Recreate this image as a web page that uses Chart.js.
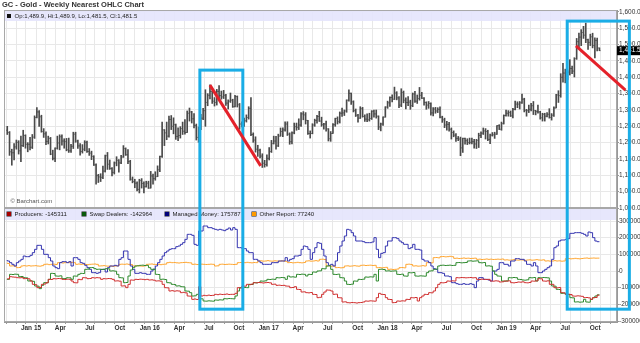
<!DOCTYPE html>
<html>
<head>
<meta charset="utf-8">
<title>GC - Gold - Weekly Nearest OHLC Chart</title>
<script src="https://cdn.jsdelivr.net/npm/chart.js@4.4.1/dist/chart.umd.min.js"></script>
<style>
  html, body { margin: 0; padding: 0; background: #fff; }
  #wrap { width: 640px; height: 343px; }
</style>
</head>
<body>
<div id="wrap"><canvas id="gold" width="640" height="343"></canvas></div>
<script>
// weekly bars, first one is the week of Mon 20 Oct 2014
const firstWeek = Date.UTC(2014, 9, 20);
const WEEK = 7 * 864e5;
const xMin = Date.UTC(2014, 9, 10);
const xMax = Date.UTC(2019, 11, 7);

const priceOpen = [
  1238,1231,1172,1169,1187,1201,1175,1191,1222,1195, 1195,1186,1217,1277,1294,1279,1234,1227,1204,1213,
  1165,1152,1183,1199,1218,1205,1203,1178,1175,1189, 1226,1205,1190,1173,1180,1201,1173,1168,1158,1132,
  1099,1095,1094,1113,1160,1134,1121,1109,1138,1146, 1138,1156,1182,1163,1142,1088,1081,1076,1057,1084,
  1075,1065,1076,1061,1098,1090,1096,1117,1158,1239, 1230,1220,1271,1250,1255,1219,1222,1243,1235,1231,
  1290,1294,1273,1252,1216,1244,1275,1298,1323,1345, 1357,1327,1323,1357,1344,1340,1345,1321,1327,1330,
  1310,1341,1316,1257,1254,1267,1277,1305,1225,1208, 1180,1177,1159,1137,1133,1152,1173,1197,1205,1190,
  1220,1234,1239,1257,1226,1203,1230,1249,1247,1254, 1288,1285,1268,1228,1228,1254,1268,1280,1266,1255,
  1257,1242,1212,1228,1255,1274,1264,1290,1291,1297, 1330,1351,1325,1298,1284,1275,1304,1280,1272,1270,
  1274,1296,1288,1281,1248,1257,1278,1309,1322,1338, 1333,1352,1337,1315,1353,1330,1323,1324,1313,1349,
  1327,1335,1345,1336,1323,1315,1320,1291,1303,1297, 1302,1278,1270,1254,1256,1241,1231,1223,1213,1211,
  1184,1213,1206,1200,1201,1203,1196,1207,1222,1229, 1236,1234,1210,1223,1224,1226,1252,1241,1258,1283,
  1290,1292,1282,1302,1318,1318,1322,1333,1299,1298, 1302,1313,1298,1295,1294,1276,1287,1281,1287,1277,
  1284,1306,1346,1344,1400,1413,1400,1416,1427,1419, 1457,1509,1523,1537,1529,1515,1507,1524,1497,1513,
  1489.9
];
const priceHigh = [
  1250,1234,1180,1197,1208,1206,1220,1238,1224,1200, 1216,1225,1282,1307,1298,1284,1243,1233,1220,1216,
  1177,1184,1220,1224,1224,1212,1213,1214,1195,1232, 1232,1208,1197,1194,1206,1205,1182,1174,1160,1135,
  1103,1105,1128,1162,1170,1147,1124,1141,1157,1148, 1161,1191,1184,1179,1146,1095,1088,1080,1088,1090,
  1080,1082,1082,1112,1104,1111,1129,1159,1263,1240, 1263,1281,1283,1276,1257,1245,1249,1263,1271,1297,
  1306,1296,1289,1257,1248,1287,1305,1362,1350,1377, 1358,1338,1363,1375,1358,1360,1348,1331,1352,1333,
  1345,1343,1320,1264,1275,1285,1310,1338,1230,1218, 1192,1180,1166,1146,1163,1185,1207,1220,1219,1226,
  1245,1245,1264,1264,1230,1233,1260,1260,1273,1292, 1295,1292,1268,1236,1258,1272,1284,1296,1278,1259,
  1266,1243,1234,1258,1275,1279,1294,1306,1300,1331, 1362,1352,1328,1303,1287,1310,1308,1285,1288,1290,
  1298,1300,1300,1282,1260,1279,1310,1327,1340,1346, 1370,1356,1341,1365,1358,1337,1341,1330,1352,1357,
  1346,1369,1354,1338,1325,1326,1322,1307,1308,1307, 1310,1281,1275,1265,1262,1245,1236,1228,1219,1217,
  1214,1214,1212,1214,1214,1210,1210,1229,1233,1245, 1243,1238,1226,1231,1232,1252,1255,1263,1285,1300,
  1298,1297,1305,1327,1325,1326,1349,1336,1302,1315, 1320,1326,1299,1315,1296,1290,1290,1292,1304,1289,
  1310,1348,1359,1411,1443,1425,1423,1454,1434,1460, 1519,1535,1546,1556,1566,1517,1532,1535,1521,1520,
  1489.9
];
const priceLow = [
  1225,1161,1131,1147,1180,1165,1142,1188,1183,1172, 1178,1182,1213,1276,1250,1232,1216,1194,1196,1163,
  1147,1142,1180,1178,1192,1183,1175,1170,1170,1182, 1201,1182,1162,1168,1175,1170,1161,1148,1130,1073,
  1078,1081,1090,1110,1118,1118,1098,1104,1129,1110, 1136,1155,1161,1136,1085,1077,1062,1052,1046,1061,
  1046,1064,1060,1061,1073,1085,1096,1111,1155,1191, 1209,1217,1240,1227,1210,1206,1214,1225,1226,1231,
  1266,1260,1245,1208,1201,1240,1270,1250,1313,1334, 1320,1312,1315,1336,1333,1335,1314,1303,1323,1308,
  1309,1309,1241,1248,1250,1263,1272,1221,1201,1171, 1158,1153,1124,1125,1128,1147,1170,1196,1180,1188,
  1220,1218,1235,1222,1195,1196,1227,1238,1240,1250, 1270,1257,1225,1214,1227,1250,1260,1265,1250,1241,
  1235,1205,1204,1228,1250,1257,1260,1280,1283,1293, 1327,1317,1294,1280,1263,1274,1278,1265,1264,1266,
  1271,1278,1275,1240,1236,1253,1278,1305,1311,1325, 1332,1331,1307,1310,1322,1303,1313,1302,1310,1323,
  1320,1330,1335,1315,1302,1305,1284,1282,1290,1292, 1276,1262,1246,1238,1235,1211,1218,1204,1206,1160,
  1170,1195,1194,1196,1196,1183,1182,1185,1215,1225, 1211,1206,1197,1220,1213,1225,1240,1238,1257,1281,
  1281,1280,1276,1300,1307,1303,1320,1294,1281,1292, 1297,1286,1285,1290,1272,1266,1266,1279,1275,1269,
  1280,1306,1323,1339,1385,1383,1393,1407,1411,1401, 1455,1489,1497,1519,1506,1485,1497,1490,1459,1481,
  1481.5
];
const priceClose = [
  1231,1172,1169,1187,1201,1175,1191,1222,1195,1195, 1186,1217,1277,1294,1279,1234,1227,1204,1213,1165,
  1152,1183,1199,1218,1205,1203,1178,1175,1189,1226, 1205,1190,1173,1180,1201,1173,1168,1158,1132,1099,
  1095,1094,1113,1160,1134,1121,1109,1138,1146,1138, 1156,1182,1163,1142,1088,1081,1076,1057,1084,1075,
  1065,1076,1061,1098,1090,1096,1117,1158,1239,1230, 1220,1271,1250,1255,1219,1222,1243,1235,1231,1290,
  1294,1273,1252,1216,1244,1275,1298,1323,1345,1357, 1327,1323,1357,1344,1340,1345,1321,1327,1330,1310,
  1341,1316,1257,1254,1267,1277,1305,1225,1208,1180, 1177,1159,1137,1133,1152,1173,1197,1205,1190,1220,
  1234,1239,1257,1226,1203,1230,1249,1247,1254,1288, 1285,1268,1228,1228,1254,1268,1280,1266,1255,1257,
  1242,1212,1228,1255,1274,1264,1290,1291,1297,1330, 1351,1325,1298,1284,1275,1304,1280,1272,1270,1274,
  1296,1288,1281,1248,1257,1278,1309,1322,1338,1333, 1352,1337,1315,1353,1330,1323,1324,1313,1349,1327,
  1335,1345,1336,1323,1315,1320,1291,1303,1297,1302, 1278,1270,1254,1256,1241,1231,1223,1213,1211,1184,
  1213,1206,1200,1201,1203,1196,1207,1222,1229,1236, 1234,1210,1223,1224,1226,1252,1241,1258,1283,1290,
  1292,1282,1302,1318,1318,1322,1333,1299,1298,1302, 1313,1298,1295,1294,1276,1287,1281,1287,1277,1284,
  1306,1346,1344,1400,1413,1400,1416,1427,1419,1457, 1509,1523,1537,1529,1515,1507,1524,1497,1513,1489,
  1481.5
];

// COT net positions, thousands of contracts
const producers = [
  -46,-47,-34,-36,-37,-40,-41,-40,-46,-45, -47,-60,-80,-82,-100,-99,-80,-78,-70,-50,
  -51,-46,-47,-45,-46,-50,-51,-49,-50,-60, -70,-71,-50,-52,-40,-41,-46,-45,-40,-42,
  -40,-41,-50,-46,-47,-45,-46,-50,-60,-59, -61,-90,-89,-100,-80,-54,-55,-50,-51,-49,
  -50,-52,-50,-54,-53,-55,-60,-59,-61,-80, -100,-101,-120,-118,-121,-119,-120,-130,-128,-131,
  -150,-151,-170,-168,-171,-94,-150,-146,-148,-145, -147,-146,-140,-142,-139,-141,-140,-138,-141,-140,
  -140,-134,-100,-102,-90,-91,-80,-82,-79,-70, -71,-69,-70,-72,-70,-69,-71,-80,-79,-86,
  -85,-87,-86,-90,-91,-100,-99,-94,-110,-111, -126,-125,-130,-131,-129,-140,-141,-160,-158,-140,
  -126,-114,-115,-120,-140,-139,-160,-161,-186,-185, -190,-191,-189,-190,-192,-190,-189,-186,-180,-181,
  -179,-180,-181,-160,-134,-140,-141,-160,-170,-171, -190,-189,-180,-181,-179,-180,-170,-171,-160,-161,
  -159,-180,-160,-150,-140,-141,-130,-131,-120,-100, -80,-70,-71,-69,-60,-61,-59,-60,-40,-41,
  -39,-40,-41,-40,-39,-41,-40,-50,-51,-49, -50,-51,-50,-60,-61,-59,-60,-66,-65,-60,
  -61,-59,-70,-71,-69,-66,-67,-65,-70,-71, -69,-60,-61,-59,-46,-47,-60,-61,-59,-80,
  -80,-100,-101,-99,-130,-131,-140,-139,-141,-150, -151,-149,-150,-152,-160,-159,-161,-170,-160,-159,
  -145.311
];
const swapDealers = [
  -54,-50,-20,-21,-19,-20,-34,-33,-40,-41, -60,-59,-62,-90,-91,-106,-86,-70,-71,-50,
  -14,-15,-30,-31,-29,-46,-45,-40,-41,-50, -30,-31,-20,-14,-15,10,11,20,21,14,
  10,11,9,10,14,13,0,1,-1,-20, -40,-41,-70,-69,-30,6,20,30,31,34,
  35,33,34,20,10,11,-20,-21,-50,-49, -51,-70,-71,-80,-81,-90,-89,-94,-95,-120,
  -121,-130,-150,-149,-140,-166,-167,-180,-181,-179, -180,-181,-174,-175,-173,-174,-166,-167,-165,-166,
  -167,-150,-120,-100,-101,-99,-100,-80,-81,-70, -71,-69,-60,-61,-59,-50,-51,-49,-50,-40,
  -41,-39,-40,-50,-30,-36,-35,-37,-20,-21, -19,-20,-30,-20,-21,-6,-7,0,1,14,
  13,30,31,10,-20,-21,-19,-40,-41,-60, -80,-81,-79,-60,-61,-50,-51,-49,-36,-37,
  -35,-36,-20,-60,10,11,9,0,1,-1, 0,1,-20,-21,-19,-30,-31,-10,-11,-9,
  -30,-31,-29,-30,-31,-10,0,1,10,11, 30,34,35,33,34,35,33,34,50,51,
  49,50,51,60,61,59,60,61,50,49, 51,30,31,29,0,-20,-30,-31,-60,-61,
  -59,-40,-41,-39,-40,-50,-51,-54,-55,-53, -40,-41,-39,-60,-40,-41,-39,-40,-41,-60,
  -90,-91,-110,-111,-134,-133,-140,-141,-160,-161, -186,-185,-187,-186,-170,-186,-187,-170,-160,-150,
  -142.964
];
const managedMoney = [
  66,60,50,40,30,50,60,70,90,86, 86,94,110,130,154,154,130,100,100,80,
  60,30,20,14,50,56,56,50,56,30, 80,80,70,50,46,34,20,10,-10,-10,
  -14,-10,10,10,-6,20,30,30,34,30, 70,80,120,120,70,30,10,-14,-14,-10,
  -14,-14,-20,-20,0,10,30,50,70,90, 110,120,130,134,134,146,150,160,170,190,
  220,220,214,160,154,240,240,270,270,260, 260,254,250,246,250,246,242,250,258,246,
  260,250,140,140,134,134,120,110,110,70, 70,60,50,40,40,40,40,50,50,50,
  60,60,60,80,60,70,74,90,90,94, 130,150,146,130,70,110,140,170,166,130,
  90,50,34,40,30,60,110,150,180,210, 250,246,230,210,180,180,180,176,170,170,
  170,174,200,130,80,106,110,150,180,180, 200,200,194,180,170,160,160,134,140,160,
  130,130,126,70,60,60,50,30,14,10, -10,-10,-14,-30,-30,-34,-70,-70,-76,-80,
  -80,-76,-80,-80,-76,-80,-100,-60,-40,-40, -50,-50,-54,-60,0,0,10,50,50,40,
  40,30,60,60,74,74,70,70,60,40, 40,30,50,30,-10,-10,0,10,20,30,
  70,140,150,180,186,186,190,194,226,226, 230,230,230,226,220,210,234,230,200,180,
  175.787
];
const otherReport = [
  50,45,30,31,29,20,21,30,32,30, 32,30,31,32,30,29,32,40,41,38,
  40,41,39,50,51,48,50,51,50,52, 50,40,42,40,41,39,38,40,41,42,
  40,30,31,32,30,29,30,28,30,31, 40,41,40,42,40,39,30,31,32,30,
  29,31,40,41,42,40,39,40,38,40, 41,50,52,50,51,49,48,50,51,52,
  50,49,40,41,39,40,41,40,39,40, 41,40,30,31,40,41,39,40,41,40,
  39,40,50,51,49,50,52,50,49,51, 50,60,61,59,60,62,60,59,61,60,
  59,61,60,58,50,51,49,50,52,50, 49,51,60,61,59,60,62,60,70,71,
  69,30,31,29,30,20,21,19,20,30, 31,29,30,32,30,29,34,35,33,34,
  35,33,34,20,21,19,20,22,10,11, 9,10,12,20,21,19,40,41,39,30,
  31,29,30,32,30,50,51,49,80,81, 79,86,87,85,86,88,86,76,77,75,
  76,78,76,77,75,76,77,70,71,69, 70,72,70,71,69,70,71,70,72,66,
  67,65,66,68,66,65,67,66,64,66, 67,65,66,68,66,65,67,60,61,59,
  60,62,60,61,59,60,74,75,73,74, 76,74,73,75,77,78,76,77,78,77,
  77.24
];

const monthNames = ['Jan','Feb','Mar','Apr','May','Jun','Jul','Aug','Sep','Oct','Nov','Dec'];
const priceTicks = [1000,1050,1100,1150,1200,1250,1300,1350,1400,1450,1500,1550,1600];
const cotTicks = [-300,-200,-100,0,100,200,300];

// marked periods: date span, top on the price panel, bottom on the COT panel
const boxes = [
  { from: '2016-06-03', to: '2016-10-13', top: 1422, bottom: -229 },
  { from: '2019-07-07', to: '2020-01-14', top: 1572, bottom: -229 }
];
const trendLines = [
  { from: '2016-07-04', to: '2016-12-07', start: 1376, end: 1129 },
  { from: '2019-08-03', to: '2020-01-02', start: 1496, end: 1361 }
];

const cotSeries = [
  { label: 'Producers', data: producers, line: '#d03030', key: '#a80000' },
  { label: 'Swap Dealers', data: swapDealers, line: '#2f8a2f', key: '#0a5a0a' },
  { label: 'Managed Money', data: managedMoney, line: '#3535b0', key: '#00007a' },
  { label: 'Other Report', data: otherReport, line: '#ffa733', key: '#ff9900' }
];
const legendX = [7, 82, 165, 252];

const weeks = priceClose.map((_, i) => firstWeek + i * WEEK);
const FONT = '"Liberation Sans", Arial, sans-serif';
Chart.defaults.font.family = FONT;

const BAR = '#4a4a4a';
const fmtPrice = v => v.toLocaleString('en-US', { minimumFractionDigits: 1, maximumFractionDigits: 1 });

function monthStarts(min, max) {
  const out = [];
  for (let y = 2014; y <= 2020; y++) {
    for (let m = 0; m < 12; m++) {
      const t = Date.UTC(y, m, 1);
      if (t >= min && t <= max) out.push({ value: t });
    }
  }
  return out;
}

const decor = {
  id: 'decor',
  beforeDatasetsDraw(chart) {
    const { ctx, chartArea: a, scales: { y, y2 } } = chart;
    ctx.save();
    ctx.fillStyle = 'rgba(228,228,252,0.9)';
    ctx.fillRect(a.left, y.top, a.width, 11);
    ctx.fillRect(a.left, y2.top, a.width, 12);
    ctx.restore();
  },
  afterDatasetsDraw(chart) {
    // open / close ticks for the OHLC bars
    const { ctx, scales: { x, y } } = chart;
    ctx.save();
    ctx.strokeStyle = BAR;
    ctx.lineWidth = 1;
    ctx.beginPath();
    weeks.forEach((t, i) => {
      const px = x.getPixelForValue(t);
      const po = y.getPixelForValue(priceOpen[i]);
      const pc = y.getPixelForValue(priceClose[i]);
      ctx.moveTo(px - 1, po); ctx.lineTo(px, po);
      ctx.moveTo(px, pc); ctx.lineTo(px + 1, pc);
    });
    ctx.stroke();
    ctx.restore();
  },
  afterDraw(chart) {
    const { ctx, chartArea: a, scales: { x, y, y2 } } = chart;
    ctx.save();

    // panel frames
    ctx.strokeStyle = '#a8a8a8';
    ctx.lineWidth = 1;
    ctx.strokeRect(a.left + 0.5, y.top + 0.5, a.width - 1, y.bottom - y.top - 1);
    ctx.strokeRect(a.left + 0.5, y2.top + 0.5, a.width - 1, y2.bottom - y2.top - 1);

    ctx.textBaseline = 'middle';
    ctx.fillStyle = '#333';
    ctx.font = 'bold 7.5px ' + FONT;
    ctx.fillText('GC - Gold - Weekly Nearest OHLC Chart', 2, 5);

    const n = priceClose.length - 1;
    ctx.fillStyle = '#111';
    ctx.fillRect(7, y.top + 4, 4, 4);
    ctx.font = '6px ' + FONT;
    ctx.fillStyle = '#222';
    ctx.fillText('Op:' + fmtPrice(priceOpen[n]) + ', Hi:' + fmtPrice(priceHigh[n]) +
      ', Lo:' + fmtPrice(priceLow[n]) + ', Cl:' + fmtPrice(priceClose[n]), 14.5, y.top + 6);

    ctx.fillStyle = '#555';
    ctx.fillText('\u00a9 Barchart.com', 10.5, y.bottom - 7);

    cotSeries.forEach((s, i) => {
      const last = s.data[s.data.length - 1];
      ctx.fillStyle = '#222';
      ctx.fillRect(legendX[i] - 0.5, y2.top + 3.5, 5, 5);
      ctx.fillStyle = s.key;
      ctx.fillRect(legendX[i], y2.top + 4, 4, 4);
      ctx.fillStyle = '#222';
      ctx.fillText(s.label + ': ' + Math.round(last * 1000), legendX[i] + 7.5, y2.top + 6.5);
    });

    // last price marker on the axis
    const py = y.getPixelForValue(priceClose[n]);
    ctx.fillStyle = '#000';
    ctx.fillRect(a.right, py - 4.5, 23, 9);
    ctx.fillStyle = '#fff';
    ctx.font = '6.5px ' + FONT;
    ctx.fillText(fmtPrice(priceClose[n]), a.right + 2, py);

    // highlighted periods and trend lines
    ctx.strokeStyle = '#1aade6';
    ctx.lineWidth = 3;
    boxes.forEach(b => {
      const x0 = x.getPixelForValue(Date.parse(b.from));
      const x1 = x.getPixelForValue(Date.parse(b.to));
      const y0 = y.getPixelForValue(b.top);
      const y1 = y2.getPixelForValue(b.bottom);
      ctx.strokeRect(x0, y0, x1 - x0, y1 - y0);
    });
    ctx.strokeStyle = '#e4212a';
    trendLines.forEach(l => {
      ctx.beginPath();
      ctx.moveTo(x.getPixelForValue(Date.parse(l.from)), y.getPixelForValue(l.start));
      ctx.lineTo(x.getPixelForValue(Date.parse(l.to)), y.getPixelForValue(l.end));
      ctx.stroke();
    });
    ctx.restore();
  }
};

new Chart(document.getElementById('gold'), {
  type: 'bar',
  data: {
    datasets: [
      {
        type: 'bar',
        label: 'GC',
        data: weeks.map((t, i) => ({ x: t, y: [priceLow[i], priceHigh[i]] })),
        yAxisID: 'y',
        backgroundColor: BAR,
        borderWidth: 0,
        barThickness: 1
      },
      ...cotSeries.map(s => ({
        type: 'line',
        label: s.label,
        data: weeks.map((t, i) => ({ x: t, y: s.data[i] })),
        yAxisID: 'y2',
        borderColor: s.line,
        borderWidth: 1,
        pointRadius: 0,
        stepped: 'after'
      }))
    ]
  },
  options: {
    responsive: false,
    animation: false,
    layout: { padding: { top: 10, left: 4, right: 0, bottom: 0 } },
    plugins: { legend: { display: false }, tooltip: { enabled: false } },
    scales: {
      x: {
        type: 'linear',
        min: xMin,
        max: xMax,
        offset: false,
        afterBuildTicks: s => { s.ticks = monthStarts(s.min, s.max); },
        afterFit: s => { s.height = 21; },
        ticks: {
          autoSkip: false,
          maxRotation: 0,
          padding: 0,
          color: '#333',
          font: { size: 6.5, weight: 'bold' },
          callback: v => {
            const d = new Date(v);
            const m = d.getUTCMonth();
            if (m % 3) return '';
            return m === 0 ? 'Jan ' + String(d.getUTCFullYear()).slice(2) : monthNames[m];
          }
        },
        grid: { color: '#e8e8e8', tickLength: 2, tickColor: '#999' },
        border: { color: '#999' }
      },
      y: {
        position: 'right',
        stack: 'panels',
        stackWeight: 198,
        min: 1000,
        max: 1606,
        afterBuildTicks: s => { s.ticks = priceTicks.map(v => ({ value: v })); },
        afterFit: s => { s.width = 23; },
        ticks: { autoSkip: false, padding: 0, color: '#333', font: { size: 6.5 }, callback: v => fmtPrice(v) },
        grid: { color: '#e8e8e8', tickLength: 2, tickColor: '#999' },
        border: { color: '#999' }
      },
      y2: {
        position: 'right',
        stack: 'panels',
        stackWeight: 114,
        min: -306,
        max: 378,
        afterBuildTicks: s => { s.ticks = cotTicks.map(v => ({ value: v })); },
        afterFit: s => { s.width = 23; },
        ticks: { autoSkip: false, padding: 0, color: '#333', font: { size: 6.5 }, callback: v => String(v * 1000) },
        grid: { color: '#e8e8e8', tickLength: 2, tickColor: '#999' },
        border: { color: '#999' }
      }
    }
  },
  plugins: [decor]
});
</script>
</body>
</html>
